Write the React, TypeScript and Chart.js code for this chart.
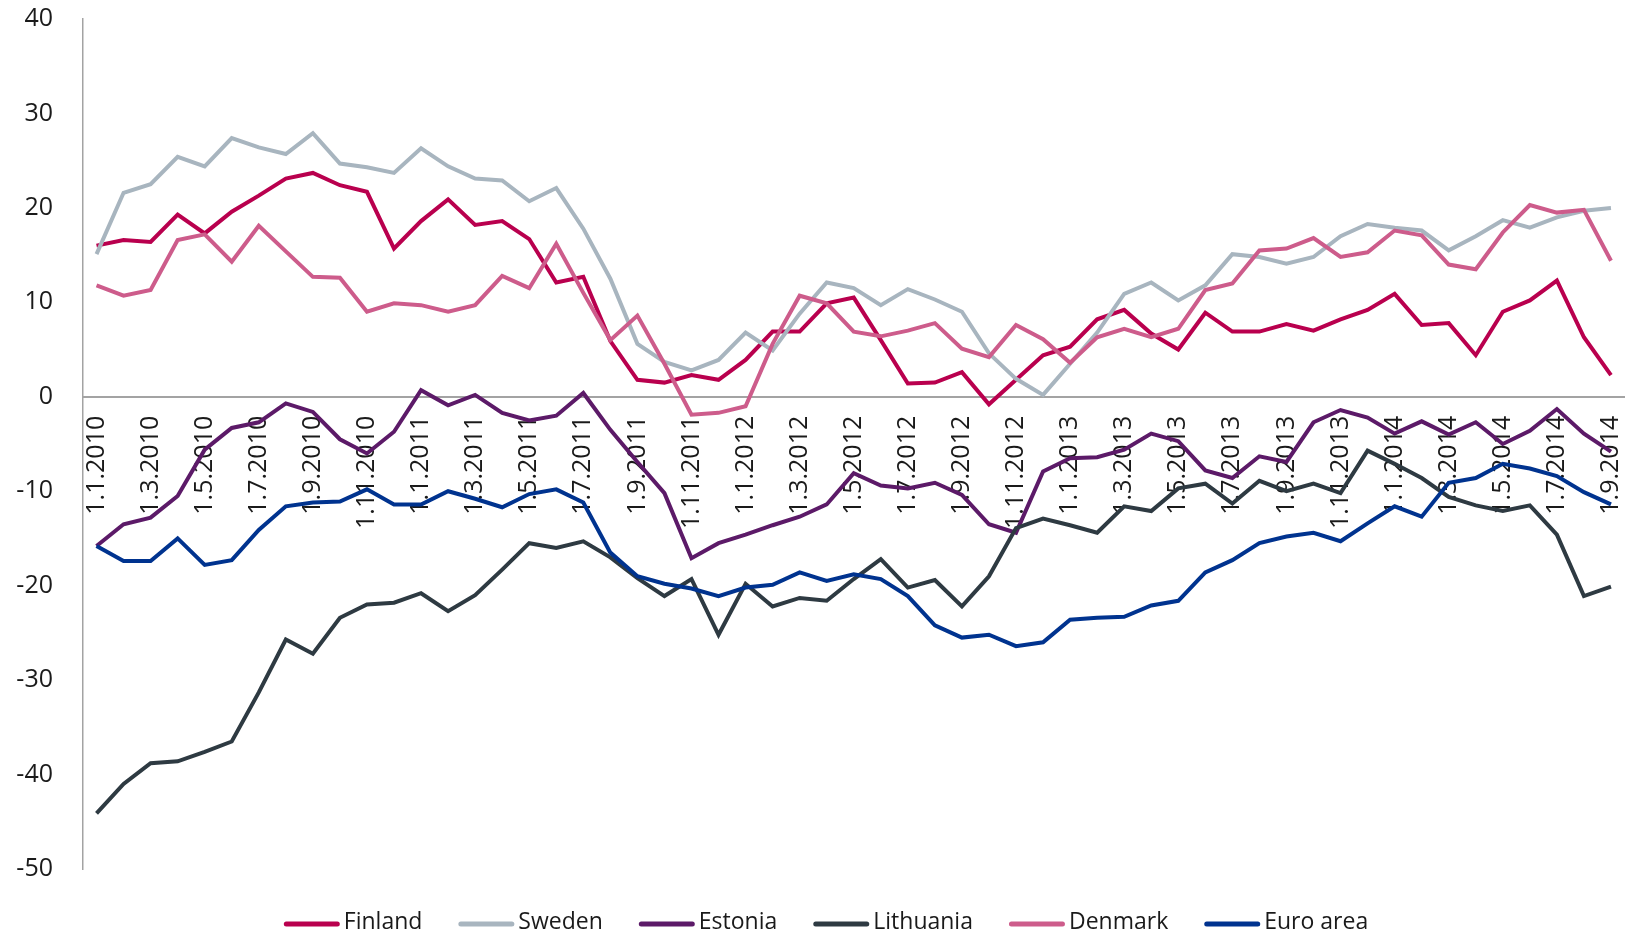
import React, { useEffect, useRef } from 'react';
import { Chart, registerables } from 'chart.js';

Chart.register(...registerables);

const categories = [
  '1.1.2010', '1.2.2010', '1.3.2010', '1.4.2010', '1.5.2010', '1.6.2010', '1.7.2010', '1.8.2010', '1.9.2010', '1.10.2010', '1.11.2010', '1.12.2010',
  '1.1.2011', '1.2.2011', '1.3.2011', '1.4.2011', '1.5.2011', '1.6.2011', '1.7.2011', '1.8.2011', '1.9.2011', '1.10.2011', '1.11.2011', '1.12.2011',
  '1.1.2012', '1.2.2012', '1.3.2012', '1.4.2012', '1.5.2012', '1.6.2012', '1.7.2012', '1.8.2012', '1.9.2012', '1.10.2012', '1.11.2012', '1.12.2012',
  '1.1.2013', '1.2.2013', '1.3.2013', '1.4.2013', '1.5.2013', '1.6.2013', '1.7.2013', '1.8.2013', '1.9.2013', '1.10.2013', '1.11.2013', '1.12.2013',
  '1.1.2014', '1.2.2014', '1.3.2014', '1.4.2014', '1.5.2014', '1.6.2014', '1.7.2014', '1.8.2014', '1.9.2014',
];

const finland = [
  16.0, 16.6, 16.4, 19.3, 17.3, 19.6, 21.3, 23.1, 23.7, 22.4, 21.7, 15.7,
  18.6, 20.9, 18.2, 18.6, 16.7, 12.1, 12.7, 5.9, 1.8, 1.5, 2.3, 1.8,
  3.9, 6.9, 6.9, 9.9, 10.5, 6.0, 1.4, 1.5, 2.6, -0.8, 1.8, 4.4,
  5.3, 8.2, 9.2, 6.7, 5.0, 8.9, 6.9, 6.9, 7.7, 7.0, 8.2, 9.2,
  10.9, 7.6, 7.8, 4.4, 9.0, 10.2, 12.3, 6.3, 2.3,
];

const sweden = [
  15.1, 21.6, 22.5, 25.4, 24.4, 27.4, 26.4, 25.7, 27.9, 24.7, 24.3, 23.7,
  26.3, 24.4, 23.1, 22.9, 20.7, 22.1, 17.8, 12.5, 5.6, 3.7, 2.8, 3.9,
  6.8, 4.9, 8.8, 12.1, 11.5, 9.7, 11.4, 10.3, 9.0, 4.6, 1.9, 0.2,
  3.5, 6.8, 10.9, 12.1, 10.2, 11.8, 15.1, 14.8, 14.1, 14.8, 17.0, 18.3,
  17.9, 17.6, 15.5, 17.0, 18.7, 17.9, 19.0, 19.7, 20.0,
];

const estonia = [
  -15.8, -13.5, -12.8, -10.5, -5.6, -3.3, -2.7, -0.7, -1.6, -4.5, -6.0, -3.7,
  0.7, -0.9, 0.2, -1.7, -2.5, -2.0, 0.4, -3.5, -6.9, -10.2, -17.1, -15.5,
  -14.6, -13.6, -12.7, -11.4, -8.1, -9.4, -9.7, -9.1, -10.4, -13.5, -14.4, -7.9,
  -6.5, -6.4, -5.6, -3.9, -4.7, -7.8, -8.6, -6.3, -6.9, -2.7, -1.4, -2.2,
  -3.9, -2.6, -4.0, -2.7, -5.0, -3.6, -1.3, -3.9, -5.8,
];

const lithuania = [
  -44.1, -41.0, -38.8, -38.6, -37.6, -36.5, -31.3, -25.7, -27.2, -23.4, -22.0, -21.8,
  -20.8, -22.7, -21.0, -18.3, -15.5, -16.0, -15.3, -17.0, -19.2, -21.1, -19.3, -25.2,
  -19.8, -22.2, -21.3, -21.6, -19.3, -17.2, -20.2, -19.4, -22.2, -19.0, -13.9, -12.9,
  -13.6, -14.4, -11.6, -12.1, -9.7, -9.2, -11.3, -8.9, -10.0, -9.2, -10.2, -5.7,
  -7.1, -8.6, -10.6, -11.5, -12.1, -11.5, -14.6, -21.1, -20.1,
];

const denmark = [
  11.8, 10.7, 11.3, 16.6, 17.2, 14.3, 18.1, 15.4, 12.7, 12.6, 9.0, 9.9,
  9.7, 9.0, 9.7, 12.8, 11.5, 16.2, 11.0, 6.0, 8.6, 3.5, -1.9, -1.7,
  -1.0, 5.6, 10.7, 9.9, 6.9, 6.4, 7.0, 7.8, 5.1, 4.2, 7.6, 6.1,
  3.6, 6.3, 7.2, 6.3, 7.2, 11.3, 12.0, 15.5, 15.7, 16.8, 14.8, 15.3,
  17.6, 17.1, 14.0, 13.5, 17.4, 20.3, 19.5, 19.8, 14.4,
];

const euroArea = [
  -15.8, -17.4, -17.4, -15.0, -17.8, -17.3, -14.1, -11.6, -11.2, -11.1, -9.8, -11.4,
  -11.4, -10.0, -10.8, -11.7, -10.3, -9.8, -11.2, -16.5, -19.0, -19.8, -20.3, -21.1,
  -20.2, -19.9, -18.6, -19.5, -18.8, -19.3, -21.1, -24.2, -25.5, -25.2, -26.4, -26.0,
  -23.6, -23.4, -23.3, -22.1, -21.6, -18.6, -17.3, -15.5, -14.8, -14.4, -15.3, -13.4,
  -11.6, -12.7, -9.1, -8.6, -7.1, -7.6, -8.4, -10.1, -11.4,
];

const seriesNames = ['Finland', 'Sweden', 'Estonia', 'Lithuania', 'Denmark', 'Euro area'];
const seriesValues = [finland, sweden, estonia, lithuania, denmark, euroArea];
const seriesColors = ['#B9004E', '#A8B5BF', '#5C1A68', '#2E3A42', '#CD5C8B', '#00338F'];

const yMin = -50;
const yMax = 40;
const yStep = 10;

const FONT = '"Open Sans", sans-serif';
const TEXT = '#1a1a1a';
const AXIS = '#a3a3a3';

const bottomLegend = {
  id: 'bottomLegend',
  afterDraw(chart: any) {
    const { ctx } = chart;
    const ds = chart.data.datasets;
    ctx.save();
    ctx.font = `23px ${FONT}`;
    const sw = 56;
    const gap = 4;
    const spacing = 36;
    const widths = ds.map((d: any) => ctx.measureText(d.label).width);
    const total = widths.reduce((a: number, w: number) => a + sw + gap + w, 0) + spacing * (ds.length - 1);
    let x = 826 - total / 2;
    const y = 924;
    ds.forEach((d: any, i: number) => {
      ctx.strokeStyle = d.borderColor;
      ctx.lineWidth = 5;
      ctx.lineCap = 'round';
      ctx.beginPath();
      ctx.moveTo(x + 2.5, y);
      ctx.lineTo(x + sw - 2.5, y);
      ctx.stroke();
      ctx.fillStyle = TEXT;
      ctx.textBaseline = 'middle';
      ctx.textAlign = 'left';
      ctx.fillText(d.label, x + sw + gap, y - 1.5);
      x += sw + gap + widths[i] + spacing;
    });
    ctx.restore();
  },
};

export default function App() {
  const ref = useRef<HTMLCanvasElement | null>(null);

  useEffect(() => {
    if (!ref.current) return;
    const n = seriesNames.length;
    const chart = new Chart(ref.current, {
      type: 'line',
      data: {
        labels: categories,
        datasets: seriesNames.map((name, i) => ({
          label: name,
          data: seriesValues[i],
          borderColor: seriesColors[i],
          backgroundColor: seriesColors[i],
          borderWidth: 4,
          pointRadius: 0,
          tension: 0,
          fill: false,
          order: n - i,
        })),
      },
      options: {
        animation: false,
        responsive: true,
        maintainAspectRatio: false,
        layout: { padding: { top: 19, right: 6.5, bottom: 68, left: 0 } },
        plugins: {
          legend: { display: false },
          tooltip: { enabled: false },
        },
        scales: {
          x: {
            type: 'category',
            position: { y: 0 } as any,
            offset: true,
            grid: { display: false, drawTicks: false },
            border: { display: true, color: AXIS, width: 2 },
            ticks: {
              autoSkip: false,
              minRotation: 90,
              maxRotation: 90,
              padding: 19,
              color: TEXT,
              font: { family: FONT, size: 25 },
              callback: (_v: any, i: number) => (i % 2 === 0 ? categories[i] : ''),
            },
            afterFit: (s: any) => {
              s.paddingLeft = 0;
              s.paddingRight = 0;
            },
          },
          y: {
            min: yMin,
            max: yMax,
            grid: { display: false, drawTicks: false },
            border: { display: true, color: AXIS, width: 1.5 },
            ticks: {
              stepSize: yStep,
              padding: 30,
              color: TEXT,
              font: { family: FONT, size: 25 },
            },
            afterFit: (s: any) => {
              s.width = 83;
              s.paddingTop = 0;
              s.paddingBottom = 0;
            },
          },
        },
      },
      plugins: [bottomLegend],
    });
    return () => chart.destroy();
  }, []);

  return (
    <div style={{ position: 'fixed', left: 0, top: 0, width: 1631, height: 937 }}>
      <canvas ref={ref} />
    </div>
  );
}
